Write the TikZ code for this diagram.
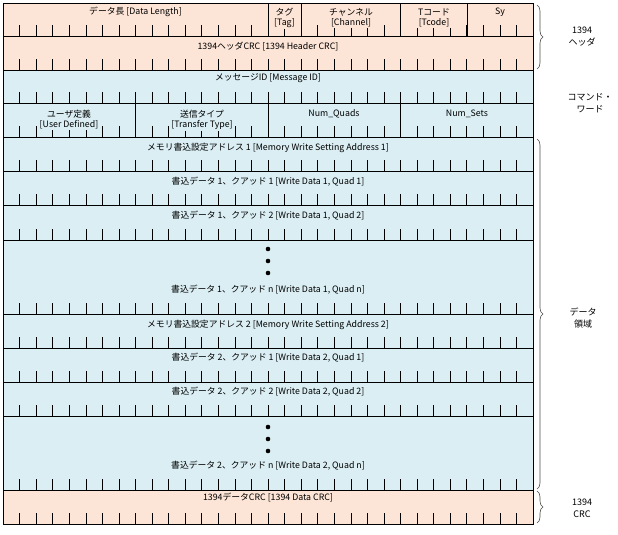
\documentclass[tikz,border=0pt]{standalone}
\usepackage{fontspec}
\setmainfont{Noto Sans CJK JP}
\usetikzlibrary{positioning,decorations.pathreplacing}

\begin{document}
\begin{tikzpicture}[x=1pt,y=-1pt,
    peach/.style={fill={rgb,255:red,252;green,228;blue,214}},
    aqua/.style={fill={rgb,255:red,218;green,238;blue,243}},
    cell/.style={draw,line width=0.9pt},
    lbl/.style={font=\fontsize{8.8}{10}\selectfont,align=center,inner sep=1pt},
    side/.style={font=\fontsize{9}{12}\selectfont,align=center},
    brc/.style={decorate,decoration={brace,amplitude=6pt},gray!60!black,semithick}]
    \useasboundingbox (0,0) rectangle (618,535);
    % bit width: 530/32
    \def\bw{16.5625}

    % row backgrounds (top, bottom, colour)
    \foreach \t/\b/\c in {3/36/peach,36/70/peach,70/103/aqua,103/137/aqua,
      137/171/aqua,171/205/aqua,205/240/aqua,240/314/aqua,314/348/aqua,
      348/382/aqua,382/416/aqua,416/490/aqua,490/524/peach}
      \draw[cell,\c] (3,\t) rectangle (533,\b);

    % bit ticks along the bottom of each row
    \foreach \b in {36,70,103,137,171,205,240,314,348,382,416,490,524}
      \foreach \i in {1,...,31}
        \draw[line width=0.6pt] (3+\i*\bw,\b) -- (3+\i*\bw,\b-11);

    % field boundaries
    \foreach \x in {268,301.1,400.5,467}
      \draw[line width=0.9pt] (\x,3) -- (\x,36);
    \foreach \x in {135.5,268,400.5}
      \draw[line width=0.9pt] (\x,103) -- (\x,137);

    % header fields
    \node[lbl] (dlen) at (135.5,12) {データ長 [Data Length]};
    \node[lbl,peach] (tag) at (284.5,18) {タグ\\{}[Tag]};
    \node[lbl,peach] (chan) at (351,18) {チャンネル\\{}[Channel]};
    \node[lbl,peach] (tcode) at (434,18) {Tコード\\{}[Tcode]};
    \node[lbl] (sy) at (500,12) {Sy};
    \node[lbl] (hcrc) at (268,47) {1394ヘッダCRC [1394 Header CRC]};

    % command words
    \node[lbl] (msgid) at (268,78) {メッセージID [Message ID]};
    \node[lbl,aqua] (user) at (69,120) {ユーザ定義\\{}[User Defined]};
    \node[lbl,aqua] (ttype) at (202,120) {送信タイプ\\{}[Transfer Type]};
    \node[lbl] (nquad) at (334,114) {Num\_Quads};
    \node[lbl] (nset) at (467,114) {Num\_Sets};

    % data
    \node[lbl] (addr1) at (268,148) {メモリ書込設定アドレス 1 [Memory Write Setting Address 1]};
    \node[lbl] (d1q1) at (268,182) {書込データ 1、クアッド 1 [Write Data 1, Quad 1]};
    \node[lbl] (d1q2) at (268,216) {書込データ 1、クアッド 2 [Write Data 1, Quad 2]};
    \foreach \y in {249,261,273}
      \fill (268,\y) circle (2.3);
    \node[lbl] (d1qn) at (268,290) {書込データ 1、クアッド n [Write Data 1, Quad n]};
    \node[lbl] (addr2) at (268,325) {メモリ書込設定アドレス 2 [Memory Write Setting Address 2]};
    \node[lbl] (d2q1) at (268,358) {書込データ 2、クアッド 1 [Write Data 2, Quad 1]};
    \node[lbl] (d2q2) at (268,392) {書込データ 2、クアッド 2 [Write Data 2, Quad 2]};
    \foreach \y in {427,439,451}
      \fill (268,\y) circle (2.3);
    \node[lbl] (d2qn) at (268,466) {書込データ 2、クアッド n [Write Data 2, Quad n]};
    \node[lbl] (dcrc) at (268,497) {1394データCRC [1394 Data CRC]};

    % braces and side labels
    \draw[brc] (537,5) -- (537,69);
    \draw[brc] (537,139) -- (537,489);
    \draw[brc] (537,491) -- (537,523);
    \node[side] (hdr) at (582,37) {1394\\ヘッダ};
    \node[side] (cmd) at (590,103) {コマンド・\\ワード};
    \node[side] (dat) at (583,318) {データ\\領域};
    \node[side] (crc) at (582,508) {1394\\CRC};
\end{tikzpicture}
\end{document}
